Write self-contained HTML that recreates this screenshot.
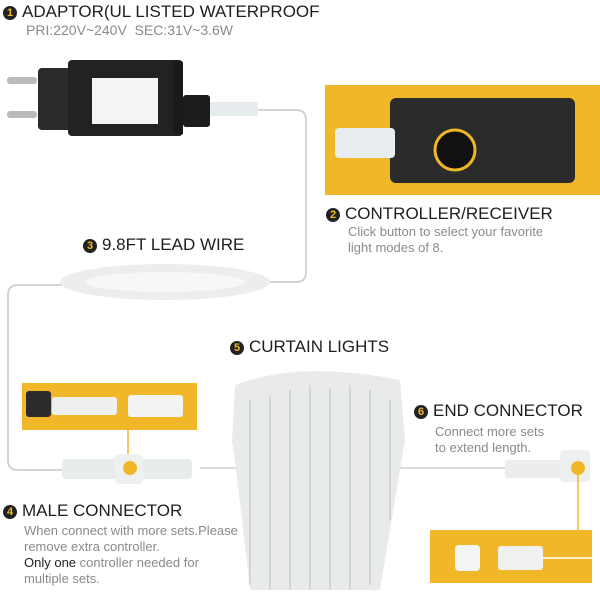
<!DOCTYPE html>
<html><head><style>
body{margin:0;width:600px;height:600px;background:#fff;position:relative;overflow:hidden;font-family:"Liberation Sans",sans-serif}
.a{position:absolute}
.h{font-size:17px;color:#1e1e1e;white-space:nowrap}
.s{font-size:13px;color:#8a8a8a;line-height:16px;white-space:nowrap}
.n{display:inline-block;width:14px;height:14px;border-radius:50%;background:#222;color:#f2b928;font-size:11px;font-weight:bold;text-align:center;line-height:14px;vertical-align:1px;margin-right:5px}
</style></head><body>
<svg class="a" style="left:0;top:0" width="600" height="600">
<path d="M258 110 H296 Q306 110 306 120 V272 Q306 282 296 282 H255" fill="none" stroke="#d4d4d4" stroke-width="2"/>
<path d="M62 285 H18 Q8 285 8 295 V460 Q8 470 18 470 H62" fill="none" stroke="#d4d4d4" stroke-width="2"/>
<path d="M200 468 H505" stroke="#ddd" stroke-width="2"/>
<!-- adapter -->
<rect x="7" y="77" width="30" height="7" rx="3" fill="#bbb"/>
<rect x="7" y="111" width="30" height="7" rx="3" fill="#bbb"/>
<rect x="38" y="68" width="40" height="62" rx="4" fill="#2a2a2a"/>
<rect x="68" y="60" width="115" height="76" rx="4" fill="#222"/>
<rect x="173" y="62" width="10" height="72" fill="#1a1a1a"/>
<rect x="183" y="95" width="27" height="32" rx="3" fill="#1c1c1c"/>
<rect x="92" y="78" width="66" height="46" fill="#f4f4f4"/>
<rect x="210" y="102" width="48" height="14" rx="2" fill="#e6ecee"/>
<!-- controller box -->
<rect x="325" y="85" width="275" height="110" fill="#f0b828"/>
<rect x="390" y="98" width="185" height="85" rx="6" fill="#2b2b2b"/>
<rect x="335" y="128" width="60" height="30" rx="4" fill="#e8eef0"/>
<circle cx="455" cy="150" r="20" fill="#111" stroke="#f0b828" stroke-width="3"/>
<!-- coil -->
<ellipse cx="165" cy="282" rx="105" ry="18" fill="#eceeee"/>
<ellipse cx="165" cy="282" rx="80" ry="10" fill="#f7f7f7"/>
<!-- left connector box -->
<rect x="22" y="383" width="175" height="47" fill="#f0b828"/>
<rect x="26" y="391" width="25" height="26" rx="3" fill="#2b2b2b"/>
<rect x="52" y="397" width="65" height="18" rx="3" fill="#eef0f0"/>
<rect x="128" y="395" width="55" height="22" rx="3" fill="#f3f3f3"/>
<line x1="128" y1="430" x2="128" y2="460" stroke="#f0b828" stroke-width="1.5"/>
<rect x="62" y="459" width="130" height="20" rx="4" fill="#e8ecec"/>
<rect x="115" y="454" width="28" height="30" rx="4" fill="#eff1f1"/>
<circle cx="130" cy="468" r="7" fill="#f0b828"/>
<!-- curtain -->
<path d="M235 385 Q300 360 400 380 L405 440 Q395 500 380 590 H250 Q240 500 232 440 Z" fill="#e9ebeb"/>
<path d="M250 400 V585 M270 395 V590 M290 390 V590 M310 385 V590 M330 388 V590 M350 385 V590 M370 390 V585 M390 400 V520" stroke="#d2d6d6" stroke-width="2"/>
<!-- end connector -->
<rect x="505" y="460" width="70" height="18" rx="3" fill="#eceeee"/>
<rect x="560" y="450" width="30" height="32" rx="4" fill="#eef0f0"/>
<circle cx="578" cy="468" r="7" fill="#f0b828"/>
<line x1="578" y1="475" x2="578" y2="530" stroke="#f0b828" stroke-width="1.5"/>
<rect x="430" y="530" width="162" height="53" fill="#f0b828"/>
<rect x="455" y="545" width="25" height="26" rx="4" fill="#f4f4f4"/>
<rect x="498" y="546" width="45" height="24" rx="3" fill="#f1f1f1"/>
<line x1="543" y1="558" x2="592" y2="558" stroke="#fff" stroke-width="1.5"/>
</svg>
<div class="a h" style="left:3px;top:2px"><span class="n" style="background:#222">1</span>ADAPTOR(UL LISTED WATERPROOF</div>
<div class="a s" style="left:26px;top:22px;font-size:14px">PRI:220V~240V&nbsp; SEC:31V~3.6W</div>
<div class="a h" style="left:326px;top:204px"><span class="n">2</span>CONTROLLER/RECEIVER</div>
<div class="a s" style="left:348px;top:224px">Click button to select your favorite<br>light modes of 8.</div>
<div class="a h" style="left:83px;top:235px"><span class="n">3</span>9.8FT LEAD WIRE</div>
<div class="a h" style="left:230px;top:337px"><span class="n">5</span>CURTAIN LIGHTS</div>
<div class="a h" style="left:414px;top:401px"><span class="n">6</span>END CONNECTOR</div>
<div class="a s" style="left:435px;top:424px">Connect more sets<br>to extend length.</div>
<div class="a h" style="left:3px;top:501px"><span class="n">4</span>MALE CONNECTOR</div>
<div class="a s" style="left:24px;top:523px">When connect with more sets.Please<br>remove extra controller.<br><span style="color:#222">Only one</span> controller needed for<br>multiple sets.</div>
</body></html>
